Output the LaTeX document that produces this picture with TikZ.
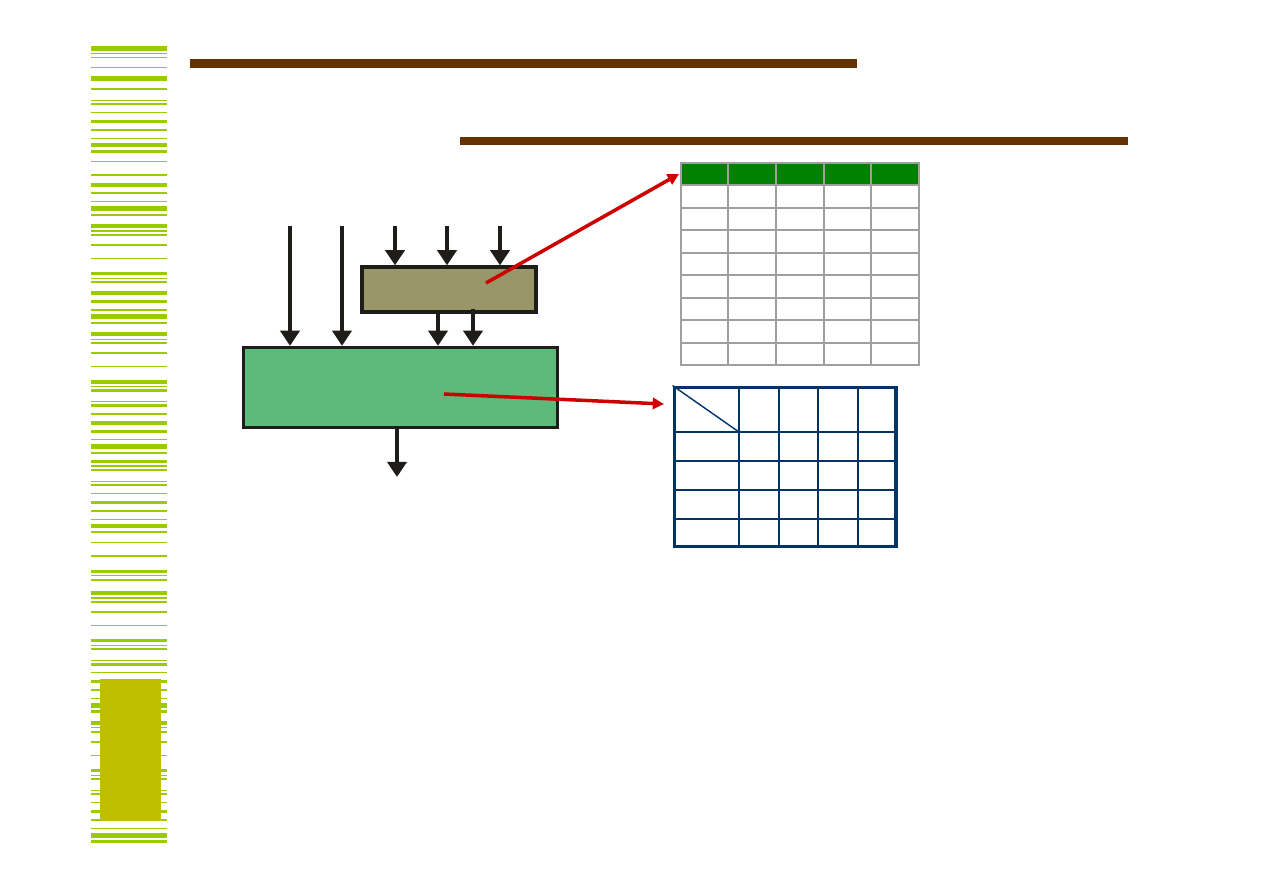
\documentclass[tikz,border=0pt]{standalone}
\usetikzlibrary{arrows.meta}
\definecolor{barbrown}{HTML}{663300}
\definecolor{stripegreen}{HTML}{99CC00}
\definecolor{tabolive}{HTML}{BFBF00}
\definecolor{selolive}{HTML}{99966A}
\definecolor{mainfill}{HTML}{5FB97A}
\definecolor{hdrgreen}{HTML}{008000}
\definecolor{gridnavy}{HTML}{003366}
\definecolor{linkred}{HTML}{CC0000}
\definecolor{inkdark}{HTML}{1F1D1A}
\begin{document}
\begin{tikzpicture}[x=0.01cm, y=-0.01cm,
  flow/.style={draw=inkdark, line width=1.1pt, -{Triangle[width=5.4pt,length=4.3pt]}},
  link/.style={draw=linkred, line width=1.0pt, -{Triangle[width=3.2pt,length=3.2pt]}},
  block/.style={draw=inkdark, line width=0.95pt, inner sep=0pt}]
\useasboundingbox (0,0) rectangle (1263,893);
% side stripes
\foreach \y/\h in {46/5,53/1,57/1,67/1,76/5,88/2,100/1,103/2,112/1,120/3,129/2,138/1,143/4,150/3,161/1,
  174/2,183/4,192/2,201/1,206/5,214/2,224/4,230/2,234/2,244/2,258/1,272/3,278/1,281/2,291/4,300/3,
  309/2,314/5,322/2,332/4,339/1,342/2,352/2,366/1,380/4,386/1,389/3,401/1,404/3,413/2,421/4,430/3,
  439/1,444/5,452/2,460/3,465/2,469/2,481/1,484/2,493/1,501/3,510/2,519/1,524/4,531/2,542/1,555/2,
  570/3,575/1,579/2,591/4,597/2,601/2,611/2,625/1,639/3,645/1,648/2,660/1,663/3,672/1,680/3,689/2,
  698/1,703/5,710/3,721/4,727/1,731/2,741/2,755/1,769/3,775/1,778/2,790/1,793/2,802/1,810/3,819/2,
  828/1,833/5,840/3} {
  \fill[stripegreen] (91,\y) rectangle (167,\y+\h);
}
\fill[tabolive] (100,679) rectangle (161,821);
% title bars
\fill[barbrown] (190,59) rectangle (857,68);
\fill[barbrown] (460,137) rectangle (1128,145);
% blocks
\node[block, fill=selolive, minimum width=1.74cm, minimum height=0.45cm] (sel) at (449,289.5) {};
\node[block, fill=mainfill, minimum width=3.14cm, minimum height=0.80cm] (main) at (400.5,387.5) {};
% inputs
\foreach \x [count=\i] in {290,342} {
  \coordinate (in\i) at (\x,226);
  \draw[flow] (in\i) -- (in\i |- main.north);
}
\foreach \x [count=\i] in {395,447,500} {
  \coordinate (s\i) at (\x,226);
  \draw[flow] (s\i) -- (s\i |- sel.north);
}
\coordinate (m1) at (438,313);
\coordinate (m2) at (473,309);
\draw[flow] (m1) -- (m1 |- main.north);
\draw[flow] (m2) -- (m2 |- main.north);
\coordinate (out) at (397,477);
\draw[flow] (main.south -| out) -- (out);
% top table
\fill[hdrgreen] (681,163) rectangle (919,185);
\foreach \y in {185,208,230,253,275,298,320,343}
  \draw[gray!75, line width=0.35pt] (681,\y) -- (919,\y);
\foreach \x in {728,776,824,871}
  \draw[gray!75, line width=0.35pt] (\x,163) -- (\x,365);
\node[draw=gray!75, line width=0.5pt, inner sep=0pt, minimum width=2.38cm, minimum height=2.02cm] (tabA) at (800,264) {};
% bottom table
\foreach \y/\w in {432/0.4pt,461/0.65pt,490/0.65pt,519/0.4pt}
  \draw[gridnavy, line width=\w] (673,\y) -- (897,\y);
\foreach \x/\w in {739/0.4pt,779/0.65pt,818/0.65pt,858/0.4pt}
  \draw[gridnavy, line width=\w] (\x,386) -- (\x,548);
\node[draw=gridnavy, line width=1.1pt, inner sep=0pt, minimum width=2.21cm, minimum height=1.59cm] (tabB) at (785,467) {};
\draw[gridnavy, line width=0.4pt] (tabB.north west) -- (739,432);
% links
\coordinate (p1) at (486,283);
\coordinate (t1) at (679,174);
\coordinate (p2) at (444,394);
\coordinate (t2) at (664,404);
\draw[link] (p1) -- (t1);
\draw[link] (p2) -- (t2);
\end{tikzpicture}
\end{document}
